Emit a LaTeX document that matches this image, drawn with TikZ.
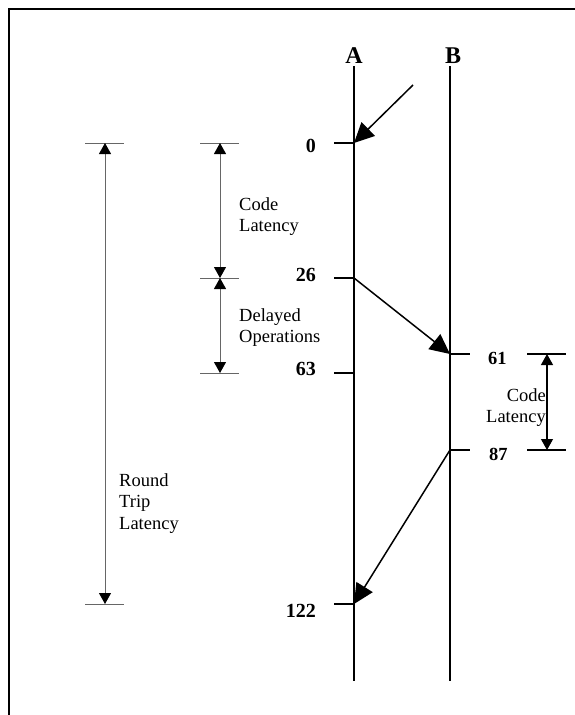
\documentclass[tikz,border=0pt]{standalone}
\usepackage{fontspec}
\setmainfont{Liberation Serif}
\usetikzlibrary{arrows.meta}

\begin{document}
\begin{tikzpicture}[x=1pt, y=-1pt,
        line/.style={line width=1.5pt},
        tick/.style={line width=1.3pt},
        msg/.style={line width=1.5pt, -{Triangle[length=20pt, width=19pt]}},
        dimline/.style={line width=0.9pt, black!60},
        dimarrow/.style={line width=0.9pt, black!60, {Triangle[length=11pt, width=12pt, black]}-{Triangle[length=11pt, width=12pt, black]}},
        dimlineb/.style={line width=1.2pt},
        dimarrowb/.style={line width=1.2pt, {Triangle[length=11pt, width=12pt]}-{Triangle[length=11pt, width=12pt]}},
        proc/.style={font=\fontsize{24}{28}\selectfont\bfseries, inner sep=0pt, anchor=base},
        stamp/.style={font=\fontsize{20}{24}\selectfont\bfseries, inner sep=0pt, anchor=base east},
        stampr/.style={font=\fontsize{18.5}{22}\selectfont\bfseries, inner sep=0pt, anchor=base west},
        note/.style={font=\fontsize{18.5}{21.5}\selectfont, inner sep=0pt, align=left, anchor=north west}]
        \clip (0,0) rectangle (575,715);

        % Frame
        \draw[line width=2pt] (8.5,9) rectangle (620,760);

        % Draw nodes
        \node[proc] (A) at (354,63) {A};
        \node[proc] (B) at (453,63) {B};
        \coordinate (Atop) at (354,66);
        \coordinate (Abot) at (354,681);
        \coordinate (Btop) at (450,66);
        \coordinate (Bbot) at (450,681);
        \coordinate (in) at (413,85);
        \coordinate (a0) at (354,143);
        \coordinate (a26) at (354,278);
        \coordinate (a63) at (354,373);
        \coordinate (a122) at (354,604);
        \coordinate (b61) at (450,354);
        \coordinate (b87) at (450,450);

        % Time lines and ticks
        \draw[line] (Atop) -- (Abot);
        \draw[line] (Btop) -- (Bbot);
        \foreach \t in {a0,a26,a63,a122}
            \draw[tick] (\t) -- ++(-20,0);
        \foreach \t in {b61,b87}
            \draw[tick] (\t) -- ++(20,0);

        % Draw connections
        \draw[msg] (in) -- (a0);
        \draw[msg] (a26) -- (b61);
        \draw[msg] (b87) -- (a122);

        % Labels
        \node[stamp] (t0) at (316,152) {0};
        \node[stamp] (t26) at (316,281) {26};
        \node[stamp] (t63) at (316,375) {63};
        \node[stamp] (t122) at (316,617) {122};
        \node[stampr] (t61) at (488,364) {61};
        \node[stampr] (t87) at (489,460) {87};

        % Code latency and delayed operations
        \coordinate (c0) at (220,143);
        \coordinate (c26) at (220,278);
        \coordinate (c63) at (220,373);
        \foreach \t in {c0,c26,c63}
            \draw[dimline] ([xshift=-20]\t) -- ([xshift=19]\t);
        \draw[dimarrow] (c0) -- (c26);
        \draw[dimarrow] (c26) -- (c63);
        \node[note] (code) at (239,197) {Code\\Latency};
        \node[note] (delay) at (239,308) {Delayed\\Operations};

        % Round trip latency
        \coordinate (r0) at (105,143);
        \coordinate (r122) at (105,604);
        \foreach \t in {r0,r122}
            \draw[dimline] ([xshift=-20]\t) -- ([xshift=19]\t);
        \draw[dimarrow] (r0) -- (r122);
        \node[note] (round) at (119,473) {Round\\Trip\\Latency};

        % Code latency at B
        \coordinate (d61) at (547,354);
        \coordinate (d87) at (547,450);
        \foreach \t in {d61,d87}
            \draw[dimlineb] ([xshift=-20]\t) -- ([xshift=19]\t);
        \draw[dimarrowb] (d61) -- (d87);
        \node[note, align=right, anchor=north east] (codeb) at (546,388) {Code\\Latency};
    \end{tikzpicture}
\end{document}
